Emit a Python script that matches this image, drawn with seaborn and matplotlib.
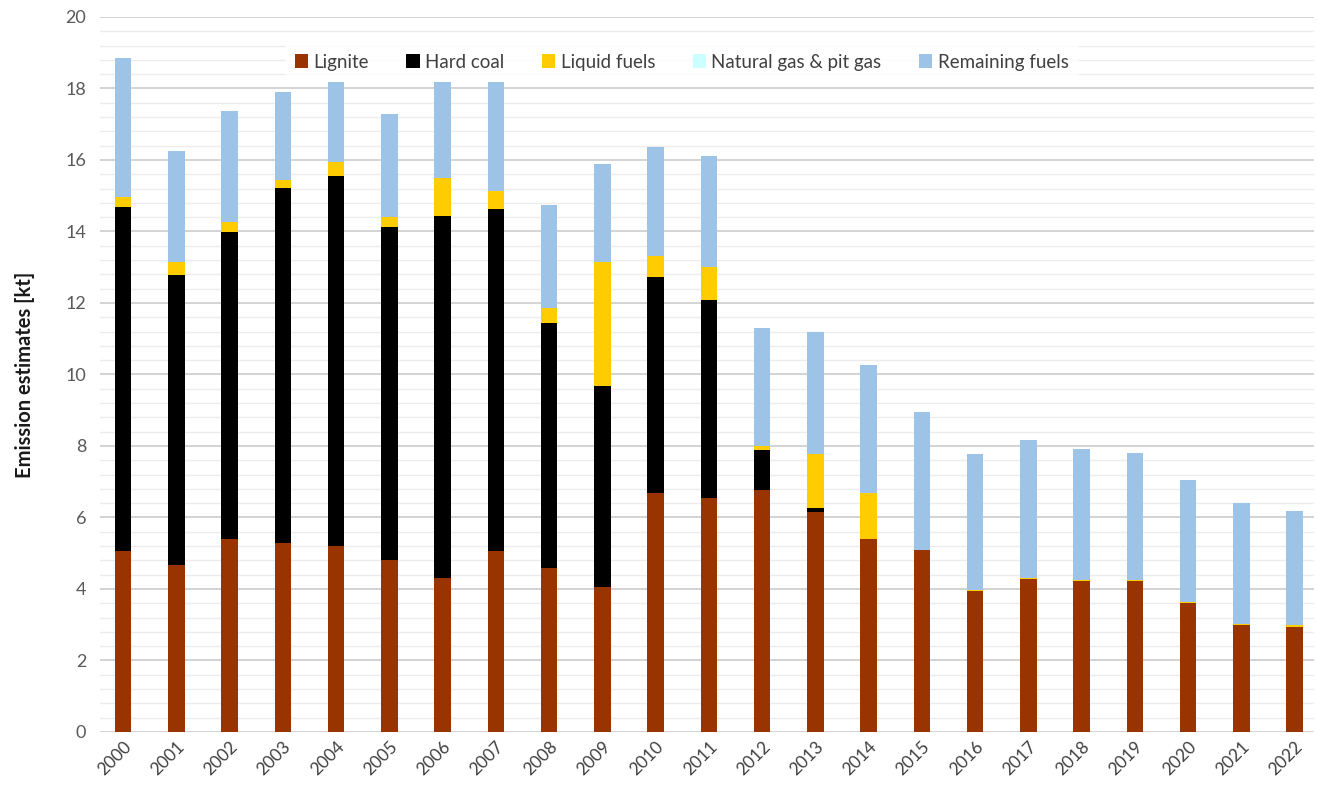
import matplotlib
matplotlib.use("Agg")
import matplotlib.pyplot as plt
from matplotlib.patches import Patch
from matplotlib.ticker import MultipleLocator
import seaborn as sns
import numpy as np
import pandas as pd

years = [str(y) for y in range(2000, 2023)]

lignite = [5.06, 4.67, 5.40, 5.29, 5.20, 4.81, 4.31, 5.06, 4.59, 4.06, 6.68, 6.54,
           6.77, 6.16, 5.39, 5.09, 3.95, 4.29, 4.21, 4.23, 3.62, 3.00, 2.95]
hard_coal = [9.62, 8.11, 8.58, 9.94, 10.35, 9.32, 10.13, 9.56, 6.84, 5.63, 6.05, 5.53,
             1.12, 0.10, 0.02, 0.00, 0.00, 0.00, 0.00, 0.00, 0.00, 0.00, 0.00]
liquid_fuels = [0.28, 0.37, 0.28, 0.22, 0.39, 0.28, 1.07, 0.50, 0.42, 3.47, 0.59, 0.94,
                0.11, 1.52, 1.27, 0.01, 0.03, 0.01, 0.03, 0.01, 0.01, 0.01, 0.03]
natural_gas = [0.00] * 23
remaining = [3.88, 3.10, 3.11, 2.44, 2.23, 2.87, 2.66, 3.05, 2.89, 2.72, 3.05, 3.09,
             3.31, 3.41, 3.59, 3.84, 3.80, 3.87, 3.68, 3.57, 3.41, 3.40, 3.20]

labels = ["Lignite", "Hard coal", "Liquid fuels", "Natural gas & pit gas", "Remaining fuels"]
colors = ["#993300", "#000000", "#FFCC00", "#CCFFFF", "#9DC3E6"]

df = pd.DataFrame({"year": years, "Lignite": lignite, "Hard coal": hard_coal,
                   "Liquid fuels": liquid_fuels, "Natural gas & pit gas": natural_gas,
                   "Remaining fuels": remaining})
cum = df[labels].cumsum(axis=1)
cum["year"] = df["year"]

sns.set_theme(style="white")
plt.rcParams['font.family'] = ["Lato", "DejaVu Sans"]

fig = plt.figure(figsize=(13.17, 7.87), dpi=100)
ax = fig.add_axes([0.076, 0.0699, 0.922, 0.9085])

# draw from the top of the stack down so each layer covers the one above it
for lab, col in reversed(list(zip(labels, colors))):
    sns.barplot(data=cum, x="year", y=lab, color=col, width=0.31,
                saturation=1, linewidth=0, ax=ax, zorder=3)

ax.set_ylim(0, 20)
ax.set_xlim(-0.43, 22.37)
ax.yaxis.set_major_locator(MultipleLocator(2))
ax.yaxis.set_minor_locator(MultipleLocator(0.4))
ax.grid(axis="y", which="major", color="#d0d0d0", linewidth=1.3, zorder=0)
ax.grid(axis="y", which="minor", color="#ececec", linewidth=1.0, zorder=0)
ax.set_axisbelow(True)
for s in ax.spines.values():
    s.set_visible(False)

ax.set_xlabel("")
ax.set_ylabel("Emission estimates [kt]", fontsize=14.5, fontweight="bold", color="#1a1a1a", labelpad=22)
ax.tick_params(axis="y", which="both", length=0, labelsize=13, colors="#595959", pad=10)
ax.tick_params(axis="x", length=0, labelsize=12.5, colors="#404040", pad=5)
plt.setp(ax.get_xticklabels(), rotation=45, ha="right", rotation_mode="anchor")

handles = [Patch(facecolor=c, edgecolor="none") for c in colors]
leg = ax.legend(handles, labels, loc="center", bbox_to_anchor=(0.479, 0.937), ncol=5,
                frameon=True, fontsize=13.5, handlelength=0.7, handleheight=0.7,
                handletextpad=0.3, columnspacing=2.0, borderpad=0.5, fancybox=False)
leg.get_frame().set_facecolor("white")
leg.get_frame().set_edgecolor("white")
leg.set_zorder(5)
for t in leg.get_texts():
    t.set_color("#404040")

fig.savefig("out.png", dpi=100)
